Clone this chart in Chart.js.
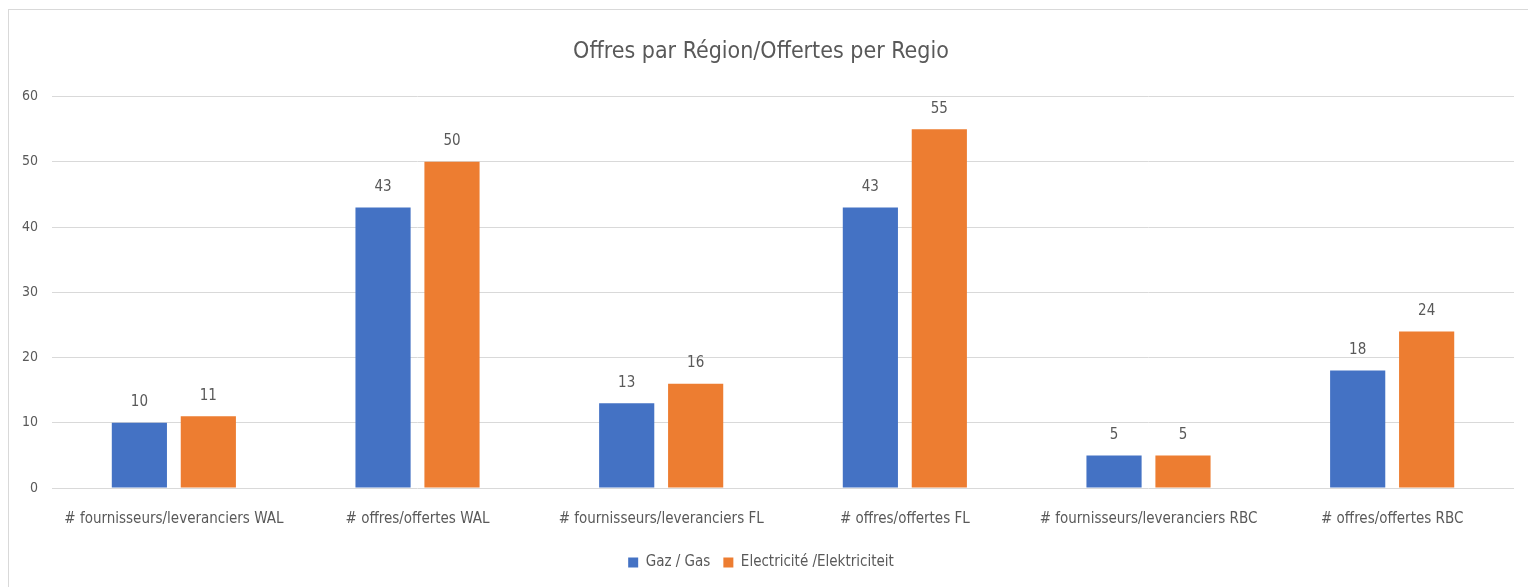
<!DOCTYPE html>
<html>
<head>
<meta charset="utf-8">
<script src="https://cdn.jsdelivr.net/npm/chart.js@4"></script>
<style>
  body { margin: 0; background: #fff; }
  #frame { position: absolute; left: 8px; top: 9px; width: 1540px; height: 600px; border: 1px solid #d9d9d9; }
  #wrap { position: absolute; left: 0; top: 0; width: 1528px; height: 587px; }
</style>
</head>
<body>
<div id="frame"></div>
<div id="wrap"><canvas id="bar-chart" width="1528" height="587"></canvas></div>
<script>
// categories and values
const labels = ["# fournisseurs/leveranciers WAL", "# offres/offertes WAL", "# fournisseurs/leveranciers FL", "# offres/offertes FL", "# fournisseurs/leveranciers RBC", "# offres/offertes RBC"];
const gasValues = [10, 43, 13, 43, 5, 18];
const elecValues = [11, 50, 16, 55, 5, 24];
const yTicks = [0, 10, 20, 30, 40, 50, 60];

const fontFamily = "'Liberation Sans Narrow', 'DejaVu Sans Condensed', sans-serif";
const grey = '#595959';

// draws the number above every bar
const valueLabels = {
  id: 'valueLabels',
  afterDatasetsDraw(chart) {
    const ctx = chart.ctx;
    ctx.save();
    ctx.font = '15px ' + fontFamily;
    ctx.fillStyle = grey;
    ctx.textAlign = 'center';
    ctx.textBaseline = 'bottom';
    chart.data.datasets.forEach((ds, i) => {
      chart.getDatasetMeta(i).data.forEach((bar, j) => {
        ctx.fillText(ds.data[j], bar.x, bar.y - 13);
      });
    });
    ctx.restore();
  }
};

const ctx = document.getElementById('bar-chart').getContext('2d');
new Chart(ctx, {
  type: 'bar',
  data: {
    labels: labels,
    datasets: [
      { label: 'Gaz / Gas', data: gasValues, backgroundColor: '#4472C4' },
      { label: 'Electricité /Elektriciteit', data: elecValues, backgroundColor: '#ED7D31' }
    ]
  },
  options: {
    responsive: false,
    animation: false,
    categoryPercentage: 0.566,
    barPercentage: 0.8,
    layout: { padding: { left: 8, right: 14, top: 38, bottom: 7 } },
    scales: {
      x: {
        grid: { display: false },
        border: { display: false },
        ticks: { color: grey, font: { family: fontFamily, size: 15 }, maxRotation: 0, padding: 14 }
      },
      y: {
        min: 0,
        max: 60,
        afterBuildTicks: (axis) => { axis.ticks = yTicks.map(v => ({ value: v })); },
        grid: { color: '#d9d9d9', drawTicks: false },
        border: { display: false },
        ticks: { color: grey, font: { family: fontFamily, size: 14 }, padding: 14 }
      }
    },
    plugins: {
      title: {
        display: true,
        text: 'Offres par Région/Offertes per Regio',
        color: grey,
        font: { family: fontFamily, size: 23, weight: 'normal' },
        padding: { top: 0, bottom: 31 }
      },
      legend: {
        position: 'bottom',
        labels: { color: grey, font: { family: fontFamily, size: 15 }, boxWidth: 10, boxHeight: 10, padding: 13 }
      },
      tooltip: { enabled: false }
    }
  },
  plugins: [valueLabels]
});
</script>
</body>
</html>
